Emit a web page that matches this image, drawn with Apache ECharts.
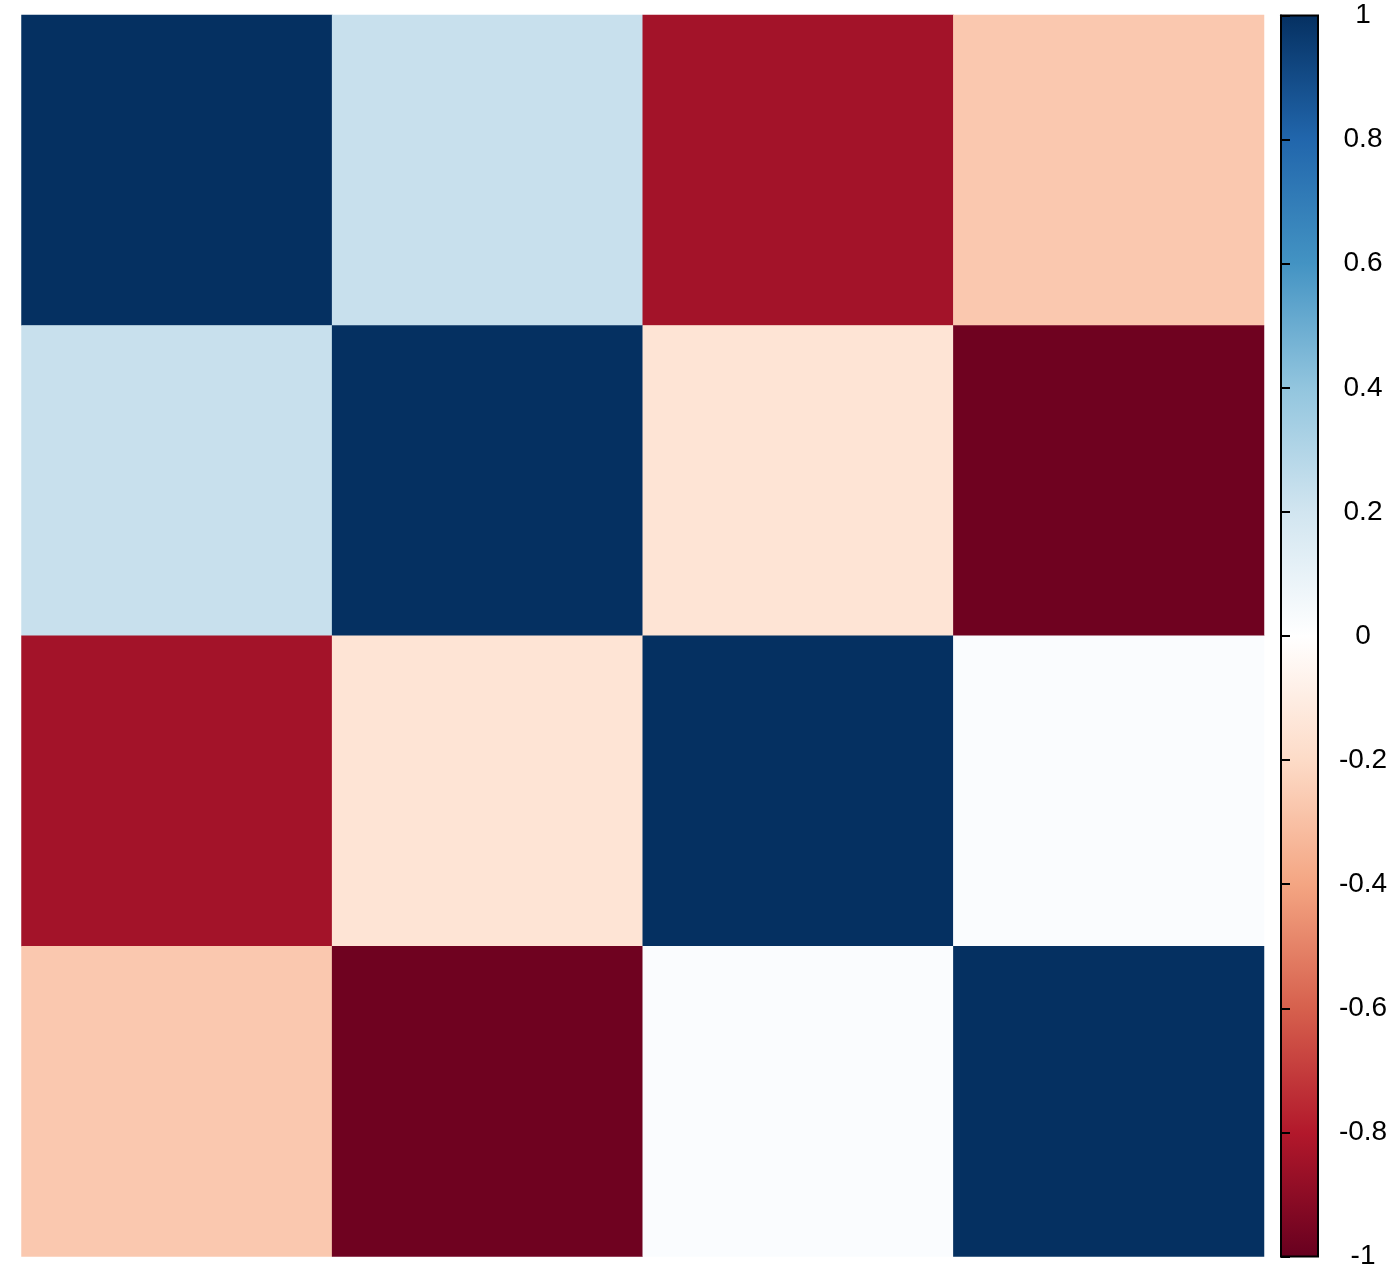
<!DOCTYPE html>
<html>
<head>
<meta charset="utf-8">
<style>
  html, body { margin: 0; padding: 0; background: #ffffff; }
  #chart { width: 1392px; height: 1280px; }
</style>
<script src="https://cdn.jsdelivr.net/npm/echarts@6/dist/echarts.min.js"></script>
</head>
<body>
<div id="chart"></div>
<script>
// Variables (rows top to bottom, columns left to right)
const variables = ['V1', 'V2', 'V3', 'V4'];

// Correlation matrix rows
const row1 = [1.00, 0.23, -0.84, -0.27];
const row2 = [0.23, 1.00, -0.15, -0.98];
const row3 = [-0.84, -0.15, 1.00, 0.02];
const row4 = [-0.27, -0.98, 0.02, 1.00];
const matrixRows = [row1, row2, row3, row4];

// Colour bar ticks
const colorbarMin = -1;
const colorbarMax = 1;
const colorbarStep = 0.2;
const colorbarTickLabels = ['-1', '-0.8', '-0.6', '-0.4', '-0.2', '0', '0.2', '0.4', '0.6', '0.8', '1'];

// RdBu palette stops (from -1 to 1)
const paletteStops = ['#67001F', '#B2182B', '#D6604D', '#F4A582', '#FDDBC7', '#FFFFFF',
                      '#D1E5F0', '#92C5DE', '#4393C3', '#2166AC', '#053061'];

const heatData = [];
matrixRows.forEach((row, r) => {
  row.forEach((v, c) => heatData.push([c, r, v]));
});

const gradientStops = paletteStops.slice().reverse().map((col, i) => ({
  offset: i / (paletteStops.length - 1), color: col
}));

const chart = echarts.init(document.getElementById('chart'), null, { renderer: 'canvas' });
chart.setOption({
  backgroundColor: '#ffffff',
  animation: false,
  grid: [
    { left: 21.5, top: 15, width: 1242.5, height: 1241.5, containLabel: false },
    { left: 1281, top: 15.5, width: 37, height: 1241,
      show: true, backgroundColor: { type: 'linear', x: 0, y: 0, x2: 0, y2: 1, colorStops: gradientStops },
      borderColor: '#000000', borderWidth: 2 }
  ],
  xAxis: [
    { type: 'category', gridIndex: 0, data: variables, show: false },
    { type: 'value', gridIndex: 1, min: 0, max: 1, show: false }
  ],
  yAxis: [
    { type: 'category', gridIndex: 0, data: variables, inverse: true, show: false },
    { type: 'value', gridIndex: 1, position: 'right', min: colorbarMin, max: colorbarMax, interval: colorbarStep,
      axisLine: { show: true, lineStyle: { color: '#000000', width: 2 } },
      axisTick: { show: true, inside: false, length: 9, lineStyle: { color: '#000000', width: 2 } },
      splitLine: { show: false },
      axisLabel: {
        show: true, margin: 45, align: 'center', color: '#000000',
        fontFamily: 'Liberation Sans, Arial, sans-serif', fontSize: 28,
        formatter: function (v) {
          const idx = Math.round((v - colorbarMin) / colorbarStep);
          return colorbarTickLabels[idx];
        }
      }
    }
  ],
  visualMap: {
    show: false, type: 'continuous', min: colorbarMin, max: colorbarMax,
    seriesIndex: 0, dimension: 2,
    inRange: { color: paletteStops }
  },
  series: [
    {
      type: 'heatmap', xAxisIndex: 0, yAxisIndex: 0, data: heatData,
      itemStyle: { borderWidth: 0 },
      emphasis: { disabled: true }
    }
  ]
});
</script>
</body>
</html>
